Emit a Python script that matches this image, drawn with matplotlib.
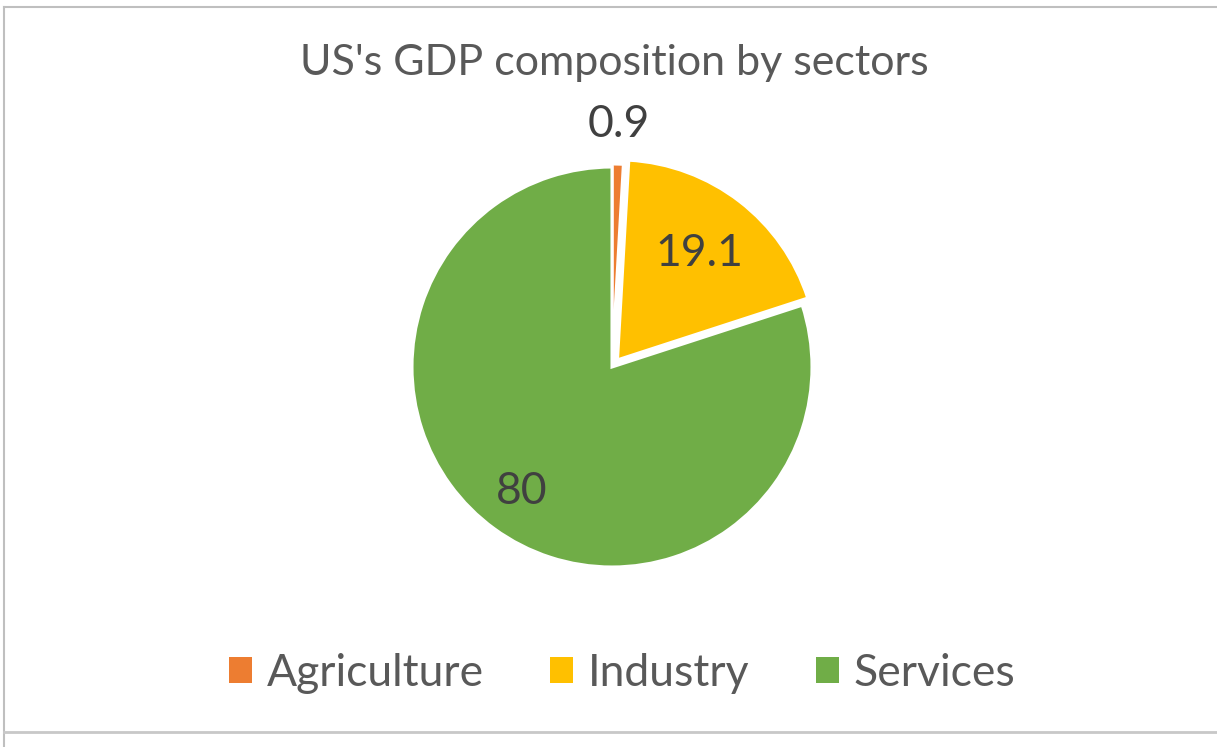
import matplotlib.pyplot as plt
import numpy as np
from matplotlib.patches import Patch
from matplotlib.lines import Line2D

sectors = ['Agriculture', 'Industry', 'Services']
shares = [0.9, 19.1, 80]
colors = ['#ED7D31', '#FFC000', '#70AD47']
explode = [0.015, 0.045, 0.0]
label_dist = [1.2, 0.67, 0.77]

plt.rcParams['font.family'] = ['Lato', 'DejaVu Sans']

W, H = 1217, 747
fig = plt.figure(figsize=(W / 100, H / 100), dpi=100)

# pie centre (612, 367) px, radius 195 px
cx, cy, R = 612, 367, 195
half = 250
ax = fig.add_axes([(cx - half) / W, 1 - (cy + half) / H, 2 * half / W, 2 * half / H])
lim = half / R
ax.set_xlim(-lim, lim)
ax.set_ylim(-lim, lim)
ax.set_aspect('equal')
ax.axis('off')

wedges, _ = ax.pie(shares, colors=colors, explode=explode, startangle=90,
                   counterclock=False, radius=1,
                   wedgeprops=dict(edgecolor='white', linewidth=2.2))

for w, val, d, e in zip(wedges, shares, label_dist, explode):
    ang = np.deg2rad((w.theta1 + w.theta2) / 2)
    x = (d + e) * np.cos(ang)
    y = (d + e) * np.sin(ang)
    ax.text(x, y, f'{val:g}', ha='center', va='center', fontsize=32, color='#404040')

fig.text(614 / W, 1 - 63 / H, "US's GDP composition by sectors", ha='center', va='center',
         fontsize=31, color='#595959')

handles = [Patch(facecolor=c, edgecolor='none') for c in colors]
fig.legend(handles, sectors, loc='center', bbox_to_anchor=(622 / W, 1 - 673 / H), ncol=3,
           frameon=False, fontsize=32, labelcolor='#595959', handlelength=0.52,
           handleheight=0.52, handletextpad=0.32, columnspacing=1.5)

# chart frame
fig.add_artist(Line2D([4 / W, 4 / W], [0, 1 - 7 / H], transform=fig.transFigure, color='#BFBFBF', lw=1.5))
fig.add_artist(Line2D([4 / W, 1], [1 - 7 / H, 1 - 7 / H], transform=fig.transFigure, color='#BFBFBF', lw=1.5))
fig.add_artist(Line2D([4 / W, 1], [1 - 732 / H, 1 - 732 / H], transform=fig.transFigure, color='#C8C8C8', lw=2))

fig.savefig('out.png', dpi=100)
